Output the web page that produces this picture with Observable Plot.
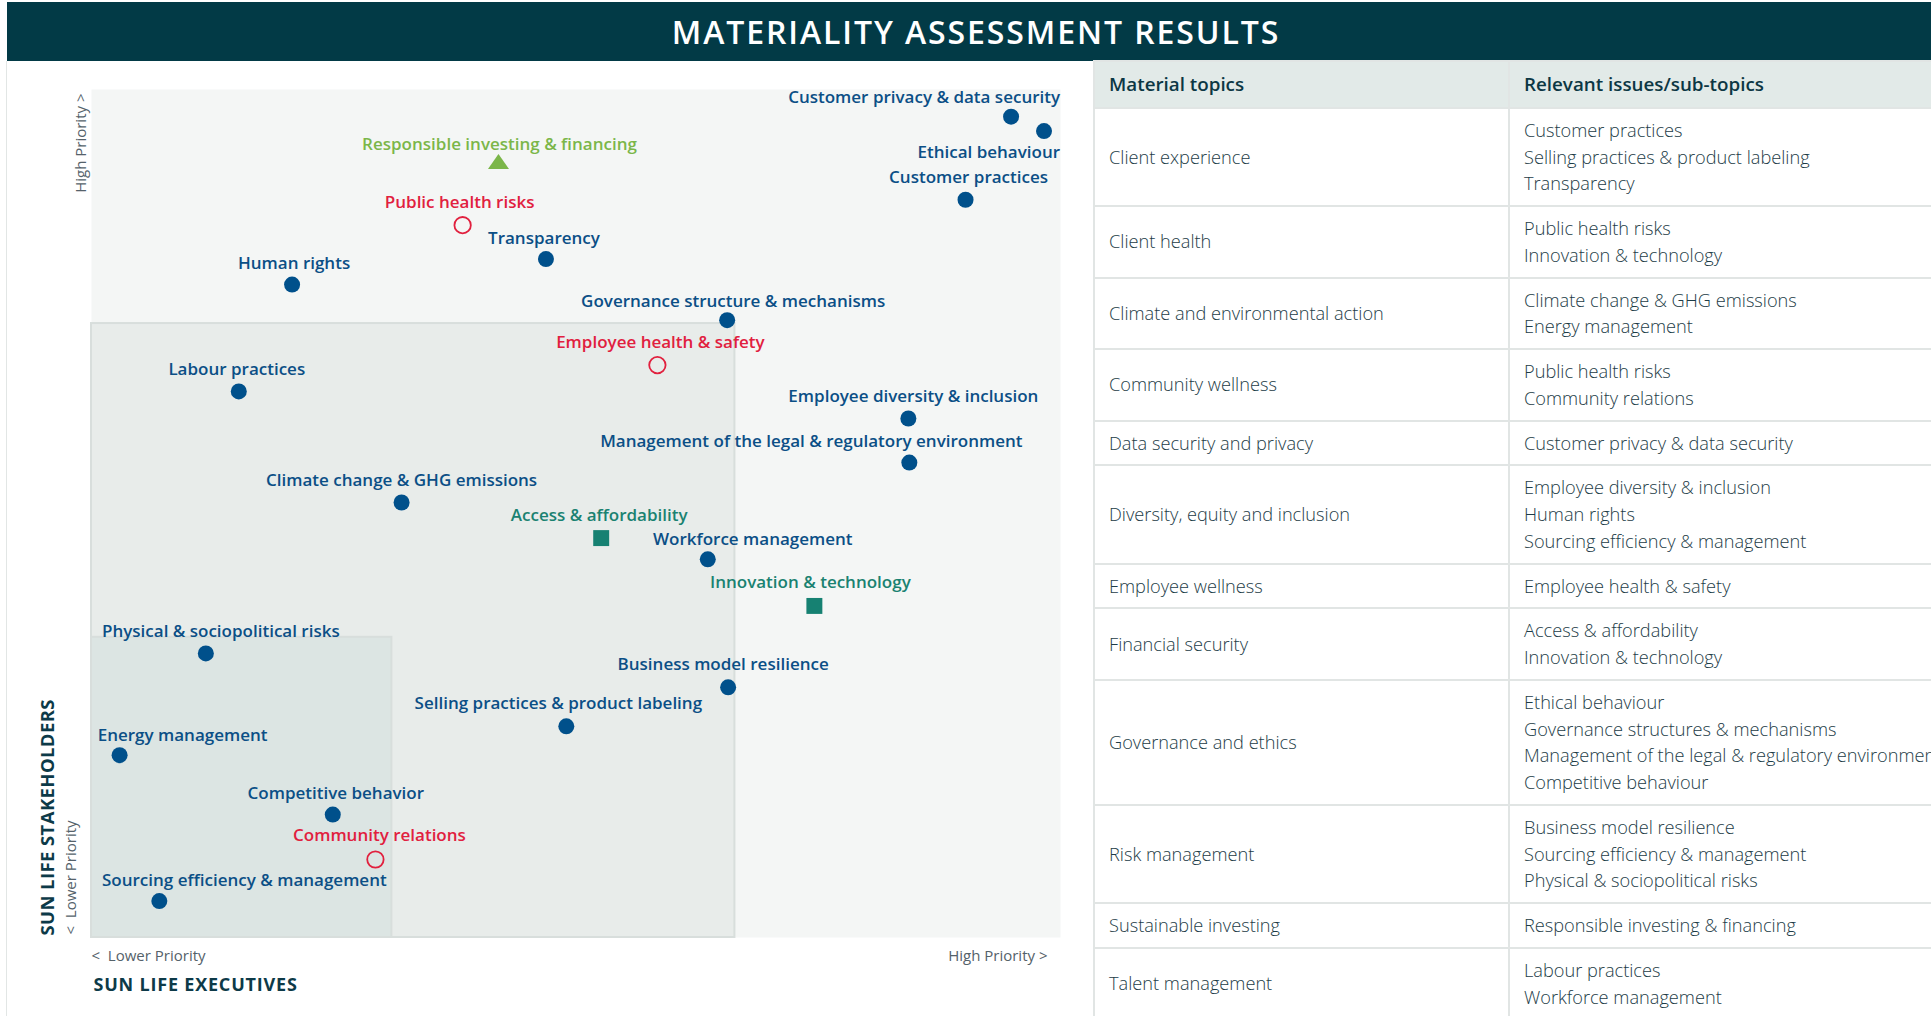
<!DOCTYPE html>
<html><head><meta charset="utf-8">
<script src="https://cdn.jsdelivr.net/npm/d3@7"></script>
<script src="https://cdn.jsdelivr.net/npm/@observablehq/plot@0.6"></script>
<style>
html,body{margin:0;padding:0;background:#fff;}
body{width:1931px;height:1016px;overflow:hidden;position:relative;font-family:"Open Sans",sans-serif;}
#title{position:absolute;left:7px;top:2px;width:1924px;height:59px;box-sizing:border-box;padding-left:14px;background:#023a46;color:#fff;font-weight:600;font-size:32px;display:flex;align-items:center;justify-content:center;letter-spacing:1.9px;}
#panel{position:absolute;left:6px;top:61px;width:1088px;height:955px;border-left:1.5px solid #e2e6e5;box-sizing:border-box;}
#chart{position:absolute;left:7px;top:61px;}
#topics{position:absolute;left:1093px;top:60px;border-collapse:collapse;table-layout:fixed;width:1015px;color:#1d3c47;font-size:18.2px;line-height:26.75px;}
#topics td,#topics th{border:2px solid #e1e5e4;padding:8px 14px;text-align:left;vertical-align:middle;white-space:nowrap;overflow:hidden;}
#topics th{background:#e2eae8;font-weight:600;font-size:18.8px;color:#0c3744;padding-top:9px;padding-bottom:9px;}
#topics td{font-weight:300;}
</style></head>
<body>
<div id="title">MATERIALITY ASSESSMENT RESULTS</div>
<div id="panel"></div>
<div id="chart"></div>
<table id="topics"></table>
<script>
// ---- Data ----
const topics = [
  "Customer privacy & data security","Ethical behaviour","Customer practices",
  "Responsible investing & financing","Public health risks","Transparency","Human rights",
  "Governance structure & mechanisms","Employee health & safety","Labour practices",
  "Employee diversity & inclusion","Management of the legal & regulatory environment",
  "Climate change & GHG emissions","Access & affordability","Workforce management",
  "Innovation & technology","Physical & sociopolitical risks","Business model resilience",
  "Selling practices & product labeling","Energy management","Competitive behavior",
  "Community relations","Sourcing efficiency & management"
];
// priority to Sun Life executives (x) and stakeholders (y), 0–100
const executives = [94.9,98.3,90.2,42.0,38.3,46.9,20.7,65.6,58.4,15.2,84.3,84.4,32.0,52.6,63.6,74.6,11.8,65.7,49.0,2.9,24.9,29.3,7.0];
const stakeholders = [96.8,95.1,87.0,91.5,84.0,80.0,77.0,72.8,67.5,64.4,61.2,56.0,51.3,47.1,44.6,39.1,33.5,29.5,24.9,21.5,14.5,9.2,4.3];
const groups = ["core","core","core","investing","wellness","core","core","core","wellness","core","core","core","core","access","core","access","core","core","core","core","core","wellness","core"];
// priority zones (upper bounds of executives / stakeholders)
const zoneExec = [66.4, 31.0];
const zoneStake = [72.4, 35.4];

const materialTopics = ["Client experience","Client health","Climate and environmental action","Community wellness","Data security and privacy","Diversity, equity and inclusion","Employee wellness","Financial security","Governance and ethics","Risk management","Sustainable investing","Talent management"];
const subTopics = [
  ["Customer practices","Selling practices & product labeling","Transparency"],
  ["Public health risks","Innovation & technology"],
  ["Climate change & GHG emissions","Energy management"],
  ["Public health risks","Community relations"],
  ["Customer privacy & data security"],
  ["Employee diversity & inclusion","Human rights","Sourcing efficiency & management"],
  ["Employee health & safety"],
  ["Access & affordability","Innovation & technology"],
  ["Ethical behaviour","Governance structures & mechanisms","Management of the legal & regulatory environment","Competitive behaviour"],
  ["Business model resilience","Sourcing efficiency & management","Physical & sociopolitical risks"],
  ["Responsible investing & financing"],
  ["Labour practices","Workforce management"]
];
const tableHeaders = ["Material topics","Relevant issues/sub-topics"];

// ---- Layout / style ----
const colors = {core: "#00508b", wellness: "#e1203e", investing: "#7bb649", access: "#168172"};
const labelColors = {core: "#0b4f86", wellness: "#e1203e", investing: "#7bb649", access: "#1a8271"};
const labelLayout = {
  "Customer privacy & data security": [49, -19, "end"],
  "Ethical behaviour": [16, 21, "end"],
  "Customer practices": [3, -22, "middle"],
  "Responsible investing & financing": [1, -17, "middle"],
  "Public health risks": [-3, -23, "middle"],
  "Transparency": [-2, -21, "middle"],
  "Human rights": [2, -21, "middle"],
  "Governance structure & mechanisms": [6, -19, "middle"],
  "Employee health & safety": [3, -23, "middle"],
  "Labour practices": [-2, -22, "middle"],
  "Employee diversity & inclusion": [5, -22, "middle"],
  "Management of the legal & regulatory environment": [-98, -21, "middle"],
  "Climate change & GHG emissions": [0, -22, "middle"],
  "Access & affordability": [-2, -23, "middle"],
  "Workforce management": [45, -20, "middle"],
  "Innovation & technology": [-4, -23, "middle"],
  "Physical & sociopolitical risks": [15, -22, "middle"],
  "Business model resilience": [-5, -23, "middle"],
  "Selling practices & product labeling": [-8, -23, "middle"],
  "Energy management": [63, -20, "middle"],
  "Competitive behavior": [3, -21, "middle"],
  "Community relations": [4, -24, "middle"],
  "Sourcing efficiency & management": [85, -20, "middle"]
};

const data = topics.map((t, i) => ({topic: t, x: executives[i], y: stakeholders[i], group: groups[i]}));
const zones = zoneExec.map((x, i) => ({x, y: zoneStake[i], level: i}));

const flatTriangle = {
  draw(context, size) {
    const r = Math.sqrt(size / Math.PI);
    const w = r * 1.5, h = r * 1.07;
    context.moveTo(0, -h);
    context.lineTo(w, h);
    context.lineTo(-w, h);
    context.closePath();
  }
};

const labelMarks = data.map(d => {
  const [dx, dy, anchor] = labelLayout[d.topic] || [0, -22, "middle"];
  return Plot.text([d], {x: "x", y: "y", text: "topic", dx, dy, textAnchor: anchor,
    fill: labelColors[d.group], fontSize: 17, fontWeight: 600});
});

const axisText = {fill: "#55626a", fontSize: 15, fontWeight: 400, text: d => d};

const chart = Plot.plot({
  width: 1087, height: 955,
  marginLeft: 84, marginRight: 34, marginTop: 28, marginBottom: 79,
  x: {domain: [0, 100], axis: null},
  y: {domain: [0, 100], axis: null},
  style: {fontFamily: "'Open Sans', sans-serif", background: "transparent", overflow: "visible"},
  marks: [
    Plot.frame({fill: "#f4f6f5", stroke: "none"}),
    Plot.rect(zones, {x1: 0, x2: "x", y1: 0, y2: "y",
      fill: d => d.level === 0 ? "#e8ecea" : "#dce5e3", stroke: "#d8dedc", strokeWidth: 2}),
    Plot.dot(data.filter(d => d.group === "core"), {x: "x", y: "y", r: 8, fill: colors.core}),
    Plot.dot(data.filter(d => d.group === "wellness"), {x: "x", y: "y", r: 8.2, fill: "none", stroke: colors.wellness, strokeWidth: 1.8}),
    Plot.dot(data.filter(d => d.group === "access"), {x: "x", y: "y", r: 9, symbol: "square", fill: colors.access}),
    Plot.dot(data.filter(d => d.group === "investing"), {x: "x", y: "y", r: 7, symbol: flatTriangle, fill: colors.investing}),
    ...labelMarks,
    Plot.text(["<  Lower Priority"], {...axisText, frameAnchor: "bottom-left", textAnchor: "start", dx: 0, dy: 23}),
    Plot.text(["High Priority >"], {...axisText, frameAnchor: "bottom-right", textAnchor: "end", dx: -13, dy: 23}),
    Plot.text(["SUN LIFE EXECUTIVES"], {text: d => d, frameAnchor: "bottom-left", textAnchor: "start", dx: 2, dy: 53, fill: "#0d3a48", fontSize: 18, fontWeight: 700}),
    Plot.text(["High Priority >"], {...axisText, frameAnchor: "top-left", textAnchor: "end", rotate: -90, dx: -16, dy: 4}),
    Plot.text(["<  Lower Priority"], {...axisText, frameAnchor: "bottom-left", textAnchor: "start", rotate: -90, dx: -16, dy: -3}),
    Plot.text(["SUN LIFE STAKEHOLDERS"], {text: d => d, frameAnchor: "bottom-left", textAnchor: "start", rotate: -90, dx: -37.5, dy: -2, fill: "#0d3a48", fontSize: 18.5, fontWeight: 700})
  ]
});
document.getElementById("chart").appendChild(chart);
// widen the bold axis titles a touch, as in the reference
d3.select(chart).selectAll("text").filter(function() { return this.textContent === "SUN LIFE EXECUTIVES"; })
  .style("letter-spacing", "0.8px");
d3.select(chart).selectAll("text").filter(function() { return this.textContent === "SUN LIFE STAKEHOLDERS"; })
  .style("letter-spacing", "0.4px");

// ---- Table ----
const table = d3.select("#topics");
table.append("colgroup").selectAll("col").data([415, 600]).join("col").style("width", d => d + "px");
table.append("tr").selectAll("th").data(tableHeaders).join("th").text(d => d);
materialTopics.forEach((t, i) => {
  const tr = table.append("tr");
  tr.append("td").text(t);
  const td = tr.append("td");
  subTopics[i].forEach(s => td.append("div").text(s));
});
</script>
</body></html>
